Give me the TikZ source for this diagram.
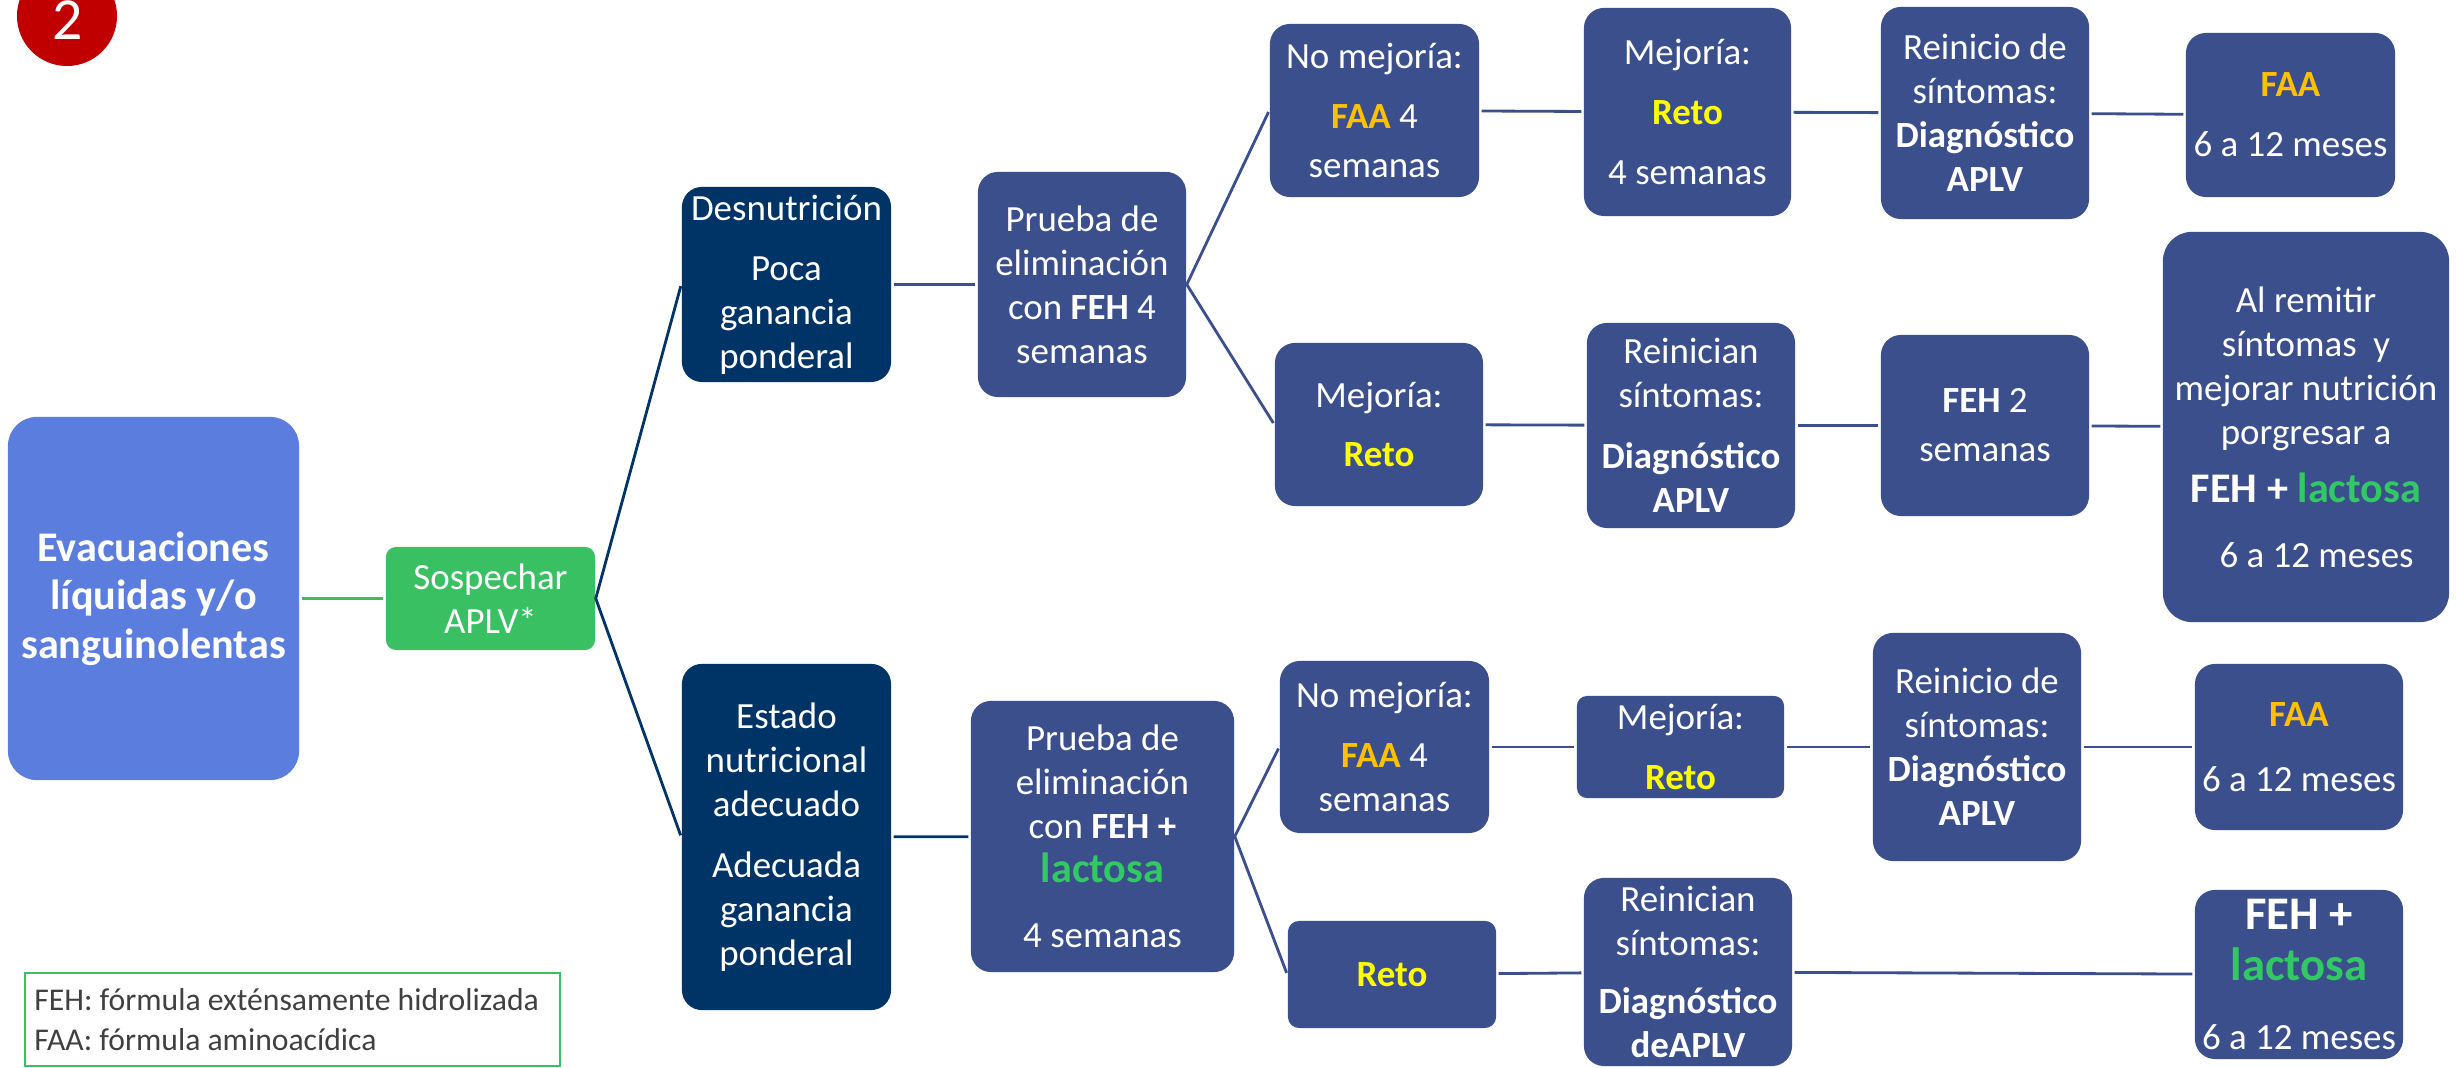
\documentclass[tikz,border=0pt]{standalone}
\usepackage{fontspec}
\setmainfont{Carlito}
\definecolor{evacblue}{RGB}{91,126,222}
\definecolor{suspgreen}{RGB}{56,192,98}
\definecolor{darknavy}{RGB}{0,51,102}
\definecolor{boxnavy}{RGB}{59,79,140}
\definecolor{retoyellow}{RGB}{255,255,0}
\definecolor{faagold}{RGB}{255,192,0}
\definecolor{lacgreen}{RGB}{50,200,100}
\definecolor{badgered}{RGB}{192,0,0}
\definecolor{legendtext}{RGB}{64,64,64}
\colorlet{linkcol}{boxnavy}
\tikzset{every node/.style={font=\fontsize{10.5}{12.5}\selectfont}}
\tikzset{
  navybox/.style={fill=boxnavy, text=white, align=center, inner sep=0pt,
    rounded corners=0.2cm, minimum width=2.08cm},
  darkbox/.style={navybox, fill=darknavy, minimum width=2.09cm},
  link/.style={line width=0.8pt, linkcol, shorten <=0.5pt, shorten >=0.5pt}
}
\newcommand{\faa}{\textcolor{faagold}{\textbf{FAA}}}
\newcommand{\reto}{\textcolor{retoyellow}{\textbf{Reto}}}
\newcommand{\lac}{\textcolor{lacgreen}{\textbf{lactosa}}}

\begin{document}
\begin{tikzpicture}[x=0.01cm, y=-0.01cm]
  \useasboundingbox (0,0) rectangle (2456,1068);

  % Badge.
  \node[circle, fill=badgered, minimum size=1cm, inner sep=0pt] (badge) at (67,16) {};
  \node[text=white, inner sep=0pt, font=\fontsize{17}{17}\selectfont]
    (badgenum) at (68,20.5) {2};

  % Start and suspicion.
  \node[navybox, fill=evacblue, rounded corners=0.29cm, minimum width=2.91cm,
    minimum height=3.63cm, font=\fontsize{12}{13.8}\selectfont\bfseries]
    (evac) at (153.5,598.5) {Evacuaciones\\líquidas y/o\\sanguinolentas};
  \node[navybox, fill=suspgreen, rounded corners=0.1cm, minimum width=2.09cm,
    minimum height=1.03cm] (sosp) at (490.5,598.5) {Sospechar\\APLV*};

  % Nutritional state.
  \node[darkbox, minimum height=1.95cm] (desn) at (786.5,284.5)
    {Desnutrición\\[4.5pt]Poca\\ganancia\\ponderal};
  \node[darkbox, minimum height=3.46cm] (estado) at (786.5,837)
    {Estado\\nutricional\\adecuado\\[4.8pt]Adecuada\\ganancia\\ponderal};

  % Elimination tests.
  \node[navybox, minimum height=2.25cm] (prueba1) at (1082,284.5)
    {Prueba de\\eliminación\\con \textbf{FEH} 4\\semanas};
  \node[navybox, minimum width=2.63cm, minimum height=2.71cm] (prueba2) at (1102.5,836.5)
    {Prueba de\\eliminación\\con \textbf{FEH +}\\{\fontsize{12}{14}\selectfont\lac}\\[6pt]4 semanas};

  % First outcomes.
  \node[navybox, minimum width=2.09cm, minimum height=1.73cm] (nomej1) at (1374.5,110.5)
    {No mejoría:\\[4.5pt]\faa{} 4\\[1.5pt]semanas};
  \node[navybox, minimum height=1.63cm] (mej2) at (1379,424.5)
    {Mejoría:\\[4.5pt]\reto};
  \node[navybox, minimum width=2.09cm, minimum height=1.72cm] (nomej3) at (1384.5,747)
    {No mejoría:\\[4.5pt]\faa{} 4\\semanas};
  \node[navybox, rounded corners=0.11cm, minimum height=1.07cm] (reto4) at (1392,974.5)
    {\reto};

  % Second outcomes.
  \node[navybox, minimum width=2.07cm, minimum height=2.08cm] (mej1) at (1687.5,112)
    {Mejoría:\\[4.5pt]\reto\\[4.5pt]4 semanas};
  \node[navybox, minimum height=2.05cm] (reinician2) at (1691,425.5)
    {Reinician\\síntomas:\\[5pt]\textbf{Diagnóstico}\\\textbf{APLV}};
  \node[navybox, rounded corners=0.1cm, minimum width=2.07cm, minimum height=1.02cm]
    (mej3) at (1680.5,747) {Mejoría:\\[4.5pt]\reto};
  \node[navybox, minimum height=1.88cm] (reinician4) at (1688,972)
    {Reinician\\síntomas:\\[4pt]\textbf{Diagnóstico}\\\textbf{deAPLV}};

  % Third outcomes.
  \node[navybox, minimum height=2.12cm] (reinicio1) at (1985,113)
    {Reinicio de\\síntomas:\\\textbf{Diagnóstico}\\\textbf{APLV}};
  \node[navybox, minimum height=1.81cm] (feh2) at (1985,425.5)
    {\textbf{FEH} 2\\[1.5pt]semanas};
  \node[navybox, minimum height=2.28cm] (reinicio3) at (1977,747)
    {Reinicio de\\síntomas:\\\textbf{Diagnóstico}\\\textbf{APLV}};

  % Final formulas.
  \node[navybox, minimum width=2.09cm, minimum height=1.64cm] (faa1) at (2290.5,115)
    {\faa\\[4.5pt]6 a 12 meses};
  \node[navybox, rounded corners=0.29cm, minimum width=2.86cm, minimum height=3.9cm]
    (alremitir) at (2306,427)
    {Al remitir\\síntomas~ y\\mejorar nutrición\\porgresar a\\[4pt]%
     {\fontsize{12}{14}\selectfont\bfseries FEH + \lac}\\[6pt]\hspace*{6pt}6 a 12 meses};
  \node[navybox, minimum height=1.66cm] (faa3) at (2299,747)
    {\faa\\[6pt]6 a 12 meses};
  \node[navybox, minimum height=1.69cm] (fehlac) at (2299,974.5)
    {{\fontsize{13.3}{15}\selectfont\bfseries FEH +}\\[2pt]%
     {\fontsize{13.3}{15}\selectfont\lac}\\[7pt]6 a 12 meses};

  % Legend.
  \node[draw=suspgreen, line width=0.5pt, text=legendtext, align=flush left,
    text width=5.16cm, inner xsep=0.095cm, minimum height=0.93cm,
    font=\fontsize{9}{11.4}\selectfont] (legend) at (292.5,1019.5)
    {FEH: fórmula exténsamente hidrolizada\\FAA: fórmula aminoacídica};

  % Connectors.
  \draw[link, suspgreen] (evac) -- (sosp);
  \draw[link, darknavy] (desn.west) -- (sosp.east) -- (estado.west);
  \draw[link] (desn) -- (prueba1);
  \draw[link] (nomej1.west) -- (prueba1.east) -- (mej2.west);
  \draw[link, darknavy] (estado) -- (prueba2);
  \draw[link] (nomej3.west) -- (prueba2.east) -- (reto4.west);
  \draw[link] (nomej1) -- (mej1);
  \draw[link] (mej1) -- (reinicio1);
  \draw[link] (reinicio1) -- (faa1);
  \draw[link] (mej2) -- (reinician2);
  \draw[link] (reinician2) -- (feh2);
  \draw[link] (feh2) -- (alremitir);
  \draw[link] (nomej3) -- (mej3);
  \draw[link] (mej3) -- (reinicio3);
  \draw[link] (reinicio3) -- (faa3);
  \draw[link] (reto4) -- (reinician4);
  \draw[link] (reinician4) -- (fehlac);

\end{tikzpicture}
\end{document}
